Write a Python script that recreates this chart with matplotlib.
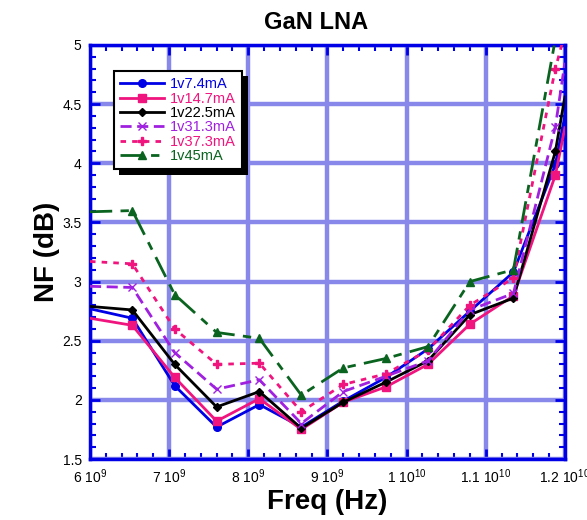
import numpy as np
import matplotlib
matplotlib.use('Agg')
import matplotlib.pyplot as plt
import matplotlib.patheffects as pe

plt.rcParams['font.family'] = ['Liberation Sans', 'DejaVu Sans']
plt.rcParams['mathtext.fontset'] = 'custom'
plt.rcParams['mathtext.rm'] = 'Liberation Sans'

# frequency points (GHz)
freq = [6.0, 6.535, 7.07, 7.6, 8.14, 8.67, 9.2, 9.74, 10.27, 10.8, 11.35, 11.88, 12.0]

labels = ['1v7.4mA', '1v14.7mA', '1v22.5mA', '1v31.3mA', '1v37.3mA', '1v45mA']
nf_7_4 = [2.77, 2.69, 2.12, 1.77, 1.96, 1.77, 1.99, 2.19, 2.43, 2.75, 3.08, 3.99, 4.4]
nf_14_7 = [2.69, 2.63, 2.19, 1.82, 2.01, 1.75, 1.98, 2.11, 2.30, 2.64, 2.88, 3.90, 4.3]
nf_22_5 = [2.79, 2.76, 2.30, 1.94, 2.07, 1.76, 1.98, 2.15, 2.33, 2.72, 2.86, 4.10, 4.56]
nf_31_3 = [2.96, 2.95, 2.40, 2.09, 2.17, 1.80, 2.07, 2.20, 2.33, 2.76, 2.90, 4.31, 4.85]
nf_37_3 = [3.17, 3.15, 2.60, 2.30, 2.31, 1.90, 2.13, 2.22, 2.42, 2.80, 3.03, 4.80, 5.1]
nf_45 = [3.59, 3.60, 2.89, 2.57, 2.52, 2.04, 2.27, 2.35, 2.45, 3.00, 3.10, 5.05, 5.4]

series = [nf_7_4, nf_14_7, nf_22_5, nf_31_3, nf_37_3, nf_45]
colors = ['#0000e6', '#f0147f', '#000000', '#a020e0', '#f0147f', '#0a6420']
styles = ['-', '-', '-', (0, (4, 2)), (0, (2, 2.2)), (0, (8, 3, 3, 3))]
markers = ['o', 's', 'D', 'x', 'P', '^']
msizes = [5.5, 5.5, 4, 6, 6, 6]

fig = plt.figure(figsize=(5.87, 5.2), dpi=100)
ax = fig.add_axes([0.1533, 0.1173, 0.809, 0.7962])

f_hz = np.array(freq) * 1e9
for vals, lab, c, ls, m, ms in zip(series, labels, colors, styles, markers, msizes):
    ax.plot(f_hz, vals, color=c, linestyle=ls, linewidth=2, marker=m,
            markersize=ms, markevery=slice(1, -1), label=lab, zorder=3)

ax.set_xlim(6e9, 1.2e10)
ax.set_ylim(1.5, 5)

xt = np.arange(6, 12.01, 1.0)
ax.set_xticks(xt * 1e9)
xlabels = ['6 $10^{9}$', '7 $10^{9}$', '8 $10^{9}$', '9 $10^{9}$',
           '1 $10^{10}$', '1.1 $10^{10}$', '1.2 $10^{10}$']
ax.set_xticklabels(xlabels)
ax.set_xticks(np.arange(6, 12.01, 0.2) * 1e9, minor=True)
ax.set_yticks([1.5, 2, 2.5, 3, 3.5, 4, 4.5, 5])
ax.set_yticklabels(['1.5', '2', '2.5', '3', '3.5', '4', '4.5', '5'])
ax.set_yticks(np.arange(1.5, 5.01, 0.1), minor=True)

ax.grid(True, which='major', color='#8888ea', linewidth=3.2, zorder=0)
ax.set_axisbelow(True)
for s in ax.spines.values():
    s.set_color('#0000e6')
    s.set_linewidth(2.5)
ax.tick_params(which='both', direction='in', color='#0000e6', top=True, right=True,
               labelsize=10, pad=6)
ax.tick_params(which='major', length=7, width=2)
ax.tick_params(which='minor', length=4, width=1.5)

fig.text(0.538, 0.956, 'GaN LNA', fontsize=17, fontweight='bold', ha='center', va='center')
ax.set_xlabel('Freq (Hz)', fontsize=20, fontweight='bold', labelpad=2)
ax.set_ylabel('NF (dB)', fontsize=20, fontweight='bold', labelpad=2)

leg = ax.legend(loc='upper left', bbox_to_anchor=(0.035, 0.955), fontsize=10.5,
                frameon=True, fancybox=False, shadow=False, framealpha=1,
                handlelength=3.0, labelspacing=0.02, borderpad=0.45,
                handletextpad=0.4)
frame = leg.get_frame()
frame.set_edgecolor('black')
frame.set_facecolor('white')
frame.set_linewidth(1.5)
frame.set_path_effects([pe.SimplePatchShadow(offset=(4, -4), shadow_rgbFace='black', alpha=1),
                        pe.Normal()])
for txt, c in zip(leg.get_texts(), colors):
    txt.set_color(c)

fig.savefig('out.png', dpi=100)
